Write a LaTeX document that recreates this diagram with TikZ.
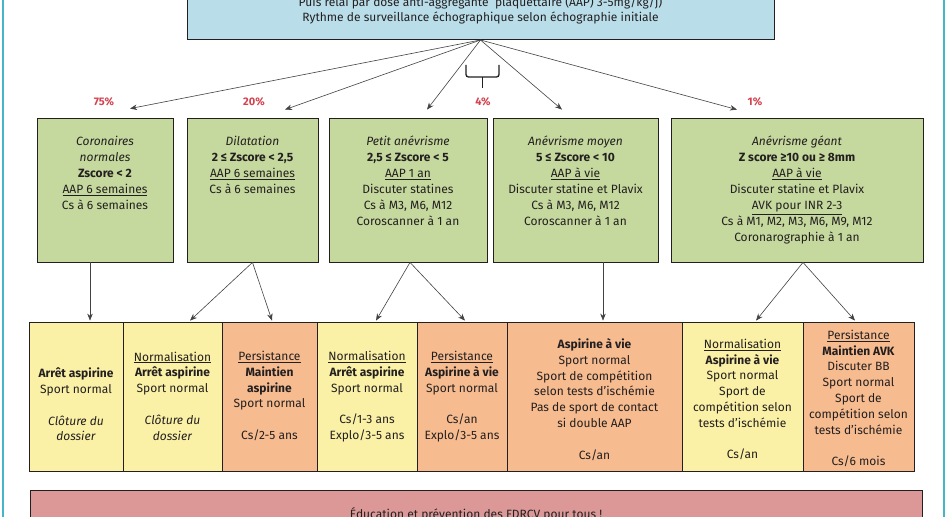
\documentclass[tikz,border=0pt]{standalone}
\usepackage{fontspec}
\setmainfont{Fira Sans}
\usetikzlibrary{arrows.meta}
\definecolor{topblue}{HTML}{B9DEEA}
\definecolor{gboxc}{HTML}{C5D89D}
\definecolor{ycell}{HTML}{FAF1A6}
\definecolor{ocell}{HTML}{F6BB8F}
\definecolor{pinkbar}{HTML}{DB9896}
\definecolor{pctred}{HTML}{D3424F}
\definecolor{tealframe}{HTML}{46B6C7}
\definecolor{ink}{HTML}{231F20}
\begin{document}
\begin{tikzpicture}[x=1pt,y=-1pt,
  box/.style={draw=ink, line width=0.8pt, inner sep=0pt},
  gbox/.style={box, fill=gboxc, minimum height=144pt},
  ybox/.style={box, fill=ycell, minimum height=149pt},
  obox/.style={box, fill=ocell, minimum height=149pt},
  gtext/.style={align=center, inner sep=0pt, text=ink, font=\fontsize{12}{16}\selectfont},
  ctext/.style={align=center, inner sep=0pt, text=ink, font=\fontsize{12}{15.8}\selectfont},
  pct/.style={text=pctred, font=\bfseries\fontsize{11}{13}\selectfont, inner sep=0pt},
  arr/.style={draw=ink!85, line width=0.6pt, -{Stealth[length=7pt,width=5.5pt]}}
]
\useasboundingbox (0,0) rectangle (949,516);
\clip (0,0) rectangle (949,516);
\fill[white] (0,0) rectangle (949,516);
\draw[tealframe, line width=2.2pt] (3,-30) rectangle (944,560);

% top box
\node[box, fill=topblue, minimum width=587pt, minimum height=90pt, anchor=south] (top) at (480.5,40) {};
\node[align=center, inner sep=0pt, text=ink, font=\fontsize{12}{15}\selectfont] (toptext) at (480.5,10.5)
  {Puis relai par dose anti-aggrégante \ plaquettaire (AAP) 3-5mg/kg/j)\\Rythme de surveillance échographique selon échographie initiale};

% green boxes
\node[gbox, minimum width=136pt] (g1) at (105,190) {};
\node[gbox, minimum width=131pt] (g2) at (252.5,190) {};
\node[gbox, minimum width=158pt] (g3) at (408,190) {};
\node[gbox, minimum width=165pt] (g4) at (575.5,190) {};
\node[gbox, minimum width=252pt] (g5) at (797,190) {};

\node[gtext, anchor=north] (g1t) at (105,136) {\textit{Coronaires}\\\textit{normales}\\\textbf{Zscore < 2}\\\underline{AAP 6 semaines}\\Cs à 6 semaines};
\node[gtext, anchor=north] (g2t) at (252.5,136) {\textit{Dilatation}\\\textbf{2 ≤ Zscore < 2,5}\\\underline{AAP 6 semaines}\\Cs à 6 semaines};
\node[gtext, anchor=north] (g3t) at (408,136) {\textit{Petit anévrisme}\\\textbf{2,5 ≤ Zscore < 5}\\\underline{AAP 1 an}\\Discuter statines\\Cs à M3, M6, M12\\Coroscanner à 1 an};
\node[gtext, anchor=north] (g4t) at (575.5,136) {\textit{Anévrisme moyen}\\\textbf{5 ≤ Zscore < 10}\\\underline{AAP à vie}\\Discuter statine et Plavix\\Cs à M3, M6, M12\\Coroscanner à 1 an};
\node[gtext, anchor=north] (g5t) at (797,136) {\textit{Anévrisme géant}\\\textbf{Z score ≥10 ou ≥ 8mm}\\\underline{AAP à vie}\\Discuter statine et Plavix\\\underline{AVK pour INR 2-3}\\Cs à M1, M2, M3, M6, M9, M12\\Coronarographie à 1 an};

% percentages
\node[pct] (p75) at (104,102) {75\%};
\node[pct] (p20) at (254,102) {20\%};
\node[pct] (p4) at (483,102) {4\%};
\node[pct] (p1) at (755,102) {1\%};

% top arrows
\draw[arr] (top.south) -- ([xshift=25pt,yshift=9pt]g1.north);
\draw[arr] (top.south) -- ([xshift=32.5pt,yshift=8pt]g2.north);
\draw[arr] (top.south) -- ([xshift=19pt,yshift=8pt]g3.north);
\draw[arr] (top.south) -- ([xshift=-13.5pt,yshift=8pt]g4.north);
\draw[arr] (top.south) -- ([xshift=-60pt,yshift=8pt]g5.north);

% brace
\draw[ink, line width=1.3pt, rounded corners=2.5pt] (466,65) -- (466,77) -- (499,77) -- (499,65);
\draw[ink, line width=1.3pt] (482.5,77) -- (482.5,88);

% bottom cells
\node[ybox, minimum width=94pt] (b1) at (76,396.5) {};
\node[ybox, minimum width=99pt] (b2) at (172.5,396.5) {};
\node[obox, minimum width=95pt] (b3) at (269.5,396.5) {};
\node[ybox, minimum width=100pt] (b4) at (367,396.5) {};
\node[obox, minimum width=90pt] (b5) at (462,396.5) {};
\node[obox, minimum width=175pt] (b6) at (594.5,396.5) {};
\node[ybox, minimum width=121pt] (b7) at (742.5,396.5) {};
\node[obox, minimum width=111pt] (b8) at (858.5,396.5) {};

\node[ctext] (b1t) at (76,404.5) {\textbf{Arrêt aspirine}\\Sport normal\\\mbox{}\\\textit{Clôture du}\\\textit{dossier}};
\node[ctext] (b2t) at (172.5,396) {\underline{Normalisation}\\\textbf{Arrêt aspirine}\\Sport normal\\\mbox{}\\\textit{Clôture du}\\\textit{dossier}};
\node[ctext] (b3t) at (269.5,396) {\underline{Persistance}\\\textbf{Maintien}\\\textbf{aspirine}\\Sport normal\\\mbox{}\\Cs/2-5 ans};
\node[ctext] (b4t) at (367,396.5) {\underline{Normalisation}\\\textbf{Arrêt aspirine}\\Sport normal\\\mbox{}\\Cs/1-3 ans\\Explo/3-5 ans};
\node[ctext] (b5t) at (462,396.5) {\underline{Persistance}\\\textbf{Aspirine à vie}\\Sport normal\\\mbox{}\\Cs/an\\Explo/3-5 ans};
\node[ctext] (b6t) at (594.5,399.5) {\textbf{Aspirine à vie}\\Sport normal\\Sport de compétition\\selon tests d’ischémie\\Pas de sport de contact\\si double AAP\\\mbox{}\\Cs/an};
\node[ctext] (b7t) at (742.5,399.5) {\underline{Normalisation}\\\textbf{Aspirine à vie}\\Sport normal\\Sport de\\compétition selon\\tests d’ischémie\\\mbox{}\\Cs/an};
\node[ctext] (b8t) at (858.5,398.5) {\underline{Persistance}\\\textbf{Maintien AVK}\\Discuter BB\\Sport normal\\Sport de\\compétition selon\\tests d’ischémie\\\mbox{}\\Cs/6 mois};

% lower arrows
\draw[arr] ([xshift=-15pt]g1.south) -- ([xshift=14pt,yshift=1pt]b1.north);
\draw[arr] ([xshift=0pt]g2.south) -- ([xshift=17.5pt,yshift=1pt]b2.north);
\draw[arr] ([xshift=0pt]g2.south) -- ([xshift=2.5pt,yshift=1pt]b3.north);
\draw[arr] ([xshift=2pt]g3.south) -- ([xshift=9pt,yshift=1pt]b4.north);
\draw[arr] ([xshift=2pt]g3.south) -- ([xshift=3pt,yshift=1pt]b5.north);
\draw[arr] ([xshift=27.5pt]g4.south) -- ([xshift=8.5pt,yshift=1pt]b6.north);
\draw[arr] ([xshift=6pt]g5.south) -- ([xshift=13.5pt,yshift=1pt]b7.north);
\draw[arr] ([xshift=6pt]g5.south) -- ([xshift=-3.5pt,yshift=1pt]b8.north);

% bottom bar
\node[box, fill=pinkbar, minimum width=892pt, minimum height=70pt, anchor=north west] (bar) at (30,490) {};
\node[inner sep=0pt, text=ink, font=\fontsize{12}{14}\selectfont] (bartext) at (476,514) {Éducation et prévention des FDRCV pour tous !};
\end{tikzpicture}
\end{document}
